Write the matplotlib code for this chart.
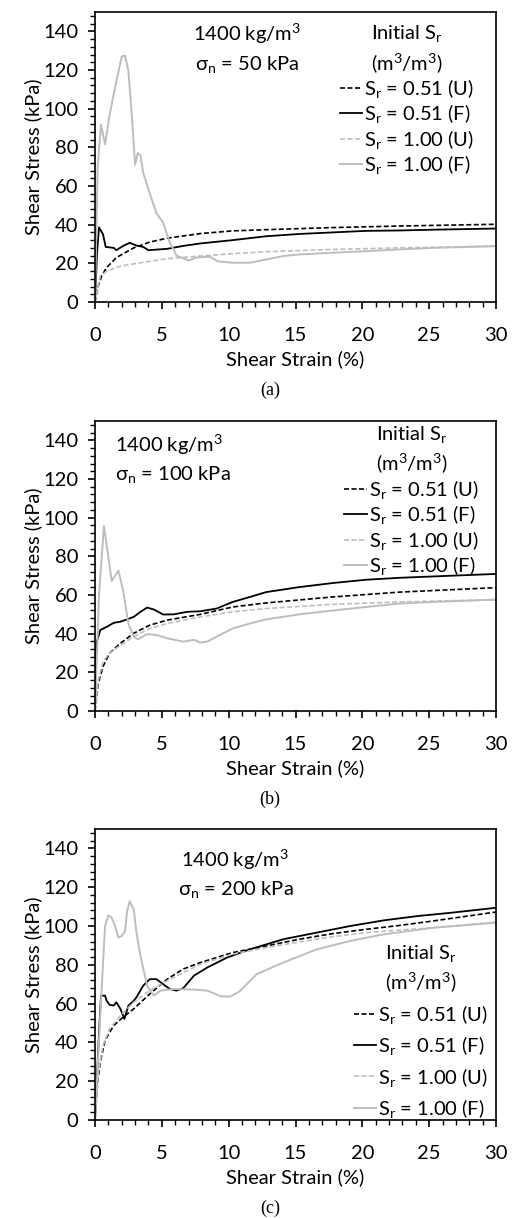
import matplotlib
matplotlib.use('Agg')
import matplotlib.pyplot as plt
from matplotlib.ticker import MultipleLocator

plt.rcParams['font.family'] = ['Lato', 'DejaVu Sans']
plt.rcParams['mathtext.fontset'] = 'custom'
plt.rcParams['mathtext.rm'] = 'Lato'
plt.rcParams['mathtext.it'] = 'Lato:italic'
FS = 14.5
plt.rcParams['font.size'] = FS

# ---- panel (a): sigma_n = 50 kPa ----
a_u051_x = [0, 0.25, 0.5, 0.87, 1.6, 2.9, 4.1, 5.4, 7.9, 10.3, 12.8, 17.8, 22.8, 30]
a_u051_y = [0, 8.4, 13.5, 17.8, 23, 28, 31, 33, 35.4, 36.8, 37.4, 38.5, 39.3, 40.2]
a_f051_x = [0, 0.15, 0.3, 0.6, 0.8, 1.4, 1.6, 2.1, 2.6, 3.1, 3.6, 4.0, 5.4, 6.6, 7.9,
            10.3, 12.8, 15.3, 17.8, 20.3, 22.8, 25.3, 30]
a_f051_y = [0, 25, 38.6, 35, 28.5, 28, 26.8, 29, 30.6, 29.2, 28.5, 26.8, 27.5, 29, 30.3,
            32, 34, 35.2, 36, 36.8, 37, 37.4, 38]
a_u100_x = [0, 0.4, 0.9, 1.9, 3.4, 5.4, 7.9, 10.3, 12.8, 17.8, 22.8, 30]
a_u100_y = [0, 13.5, 16, 18.6, 20.3, 22.4, 23.8, 25, 26, 27.2, 28, 28.9]
a_f100_x = [0, 0.2, 0.45, 0.75, 1.1, 1.5, 2.0, 2.25, 2.5, 2.75, 3.0, 3.2, 3.4, 3.6, 4.1,
            4.6, 5.1, 5.6, 6.1, 7.0, 7.6, 8.6, 9.2, 10.3, 11.6, 12.8, 14.1, 15.3, 17.8,
            20.3, 22.8, 25.3, 30]
a_f100_y = [0, 70, 91.8, 81.5, 97, 111, 127, 127.5, 119.5, 97, 71, 77, 76, 67, 56,
            46, 41, 30.6, 24, 21.5, 23, 23.4, 21, 20.3, 20.3, 22, 23.8, 24.6, 25.5,
            26.3, 27.2, 28, 28.9]

# ---- panel (b): sigma_n = 100 kPa ----
b_u051_x = [0, 0.25, 0.6, 1.1, 1.9, 2.9, 4.1, 5.4, 7.9, 10.3, 12.8, 17.8, 22.8, 30]
b_u051_y = [0, 14.5, 23, 30, 35, 40.2, 44.4, 47, 50, 53.8, 55.9, 59, 61.5, 63.8]
b_f051_x = [0, 0.1, 0.4, 0.9, 1.4, 1.9, 2.4, 2.9, 3.4, 3.9, 4.4, 5.1, 5.9, 6.9, 7.9,
            9.1, 10.3, 11.6, 12.8, 15.3, 17.8, 20.3, 22.8, 25.3, 30]
b_f051_y = [0, 35, 41.9, 43.6, 45.6, 46.2, 47.4, 48.7, 51.3, 53.5, 52.5, 49.9, 50, 51.3, 51.6,
            53, 56.4, 59, 61.5, 64.1, 66.2, 67.9, 68.9, 69.6, 70.9]
b_u100_x = [0, 0.25, 0.6, 1.1, 1.9, 2.9, 4.1, 5.4, 7.9, 10.3, 12.8, 17.8, 22.8, 30]
b_u100_y = [0, 16, 25.6, 30, 34, 38.5, 42.7, 45.3, 48.7, 51.3, 53, 55.2, 56.4, 57.6]
b_f100_x = [0, 0.3, 0.67, 1.25, 1.75, 2.1, 2.5, 2.9, 3.2, 3.9, 4.6, 5.4, 6.6, 7.4, 7.9,
            8.4, 9.1, 10.3, 11.6, 12.8, 15.3, 17.8, 20.3, 22.8, 25.3, 30]
b_f100_y = [0, 60, 95.7, 67.2, 72.6, 62.4, 45, 38.5, 37, 39.8, 39.3, 37.6, 35.9, 36.8, 35.4,
            35.9, 38.5, 42.7, 45.3, 47.4, 50, 52, 53.8, 55.6, 56.4, 57.6]

# ---- panel (c): sigma_n = 200 kPa ----
c_u051_x = [0, 0.2, 0.4, 0.75, 1.4, 2.1, 2.9, 4.1, 5.4, 6.6, 7.9, 10.3, 12.8, 15.3, 17.8,
            20.3, 22.8, 25.3, 30]
c_u051_y = [0, 19.7, 30, 41, 48.7, 53, 57.3, 65, 72.6, 77.8, 81.2, 86.3, 89.7, 93.2, 96.1,
            98.3, 100.3, 102.6, 107.2]
c_f051_x = [0, 0.3, 0.45, 0.75, 0.87, 1.1, 1.4, 1.6, 1.9, 2.2, 2.5, 2.9, 3.1, 3.6, 4.1,
            4.6, 5.1, 5.6, 6.1, 6.6, 7.4, 8.4, 9.9, 11.6, 14.1, 16.6, 19.1, 21.6, 24.1,
            26.6, 30]
c_f051_y = [0, 45, 64.1, 64.1, 61.5, 59.3, 59, 60.7, 57.3, 52.1, 59, 61.5, 63.2, 69.2, 72.6,
            72.6, 70, 67.5, 66.7, 67.9, 74.4, 78.6, 83.8, 88, 93.2, 96.6, 100, 102.9, 105.1,
            106.8, 109.4]
c_u100_x = [0, 0.25, 0.6, 1.1, 1.9, 2.9, 4.1, 5.4, 7.9, 10.3, 12.8, 15.3, 17.8, 20.3, 22.8,
            25.3, 30]
c_u100_y = [0, 24.8, 38.5, 47, 53.8, 60.7, 66.7, 71.8, 80.3, 85.5, 88.9, 91.8, 94.5, 96.6, 97.9,
            99.1, 102]
c_f100_x = [0, 0.4, 0.75, 1.0, 1.25, 1.5, 1.75, 2.0, 2.25, 2.4, 2.6, 2.9, 3.1, 3.4, 3.9,
            4.4, 4.9, 5.9, 7.4, 8.4, 9.4, 10.1, 10.8, 12.1, 14.1, 16.6, 19.1, 21.6, 25.3, 30]
c_f100_y = [0, 55, 100, 105.5, 104.3, 100, 94, 94.9, 97.4, 107.7, 112.8, 108.5, 96.6, 84.6, 69.2,
            64.1, 66.7, 67.5, 67.2, 66.7, 63.8, 63.6, 66.2, 75.2, 81.2, 88, 92.3, 95.7, 99.1, 101.7]

panel_tags = ['(a)', '(b)', '(c)']
labels = ['$\\mathrm{S_r}$ = 0.51 (U)', '$\\mathrm{S_r}$ = 0.51 (F)',
          '$\\mathrm{S_r}$ = 1.00 (U)', '$\\mathrm{S_r}$ = 1.00 (F)']
panels = [
    [(a_u051_x, a_u051_y), (a_f051_x, a_f051_y), (a_u100_x, a_u100_y), (a_f100_x, a_f100_y)],
    [(b_u051_x, b_u051_y), (b_f051_x, b_f051_y), (b_u100_x, b_u100_y), (b_f100_x, b_f100_y)],
    [(c_u051_x, c_u051_y), (c_f051_x, c_f051_y), (c_u100_x, c_u100_y), (c_f100_x, c_f100_y)],
]
styles = [dict(color='black', ls=(0, (3, 1.5)), lw=1.2),
          dict(color='black', ls='-', lw=1.3),
          dict(color='#bdbdbd', ls=(0, (3, 1.5)), lw=1.2),
          dict(color='#bdbdbd', ls='-', lw=1.4)]

# legend placement per panel: (loc, anchor, labelspacing)
leg_opts = [('upper right', (0.945, 0.962), 0.12),
            ('upper right', (0.957, 0.99), 0.12),
            ('lower right', (0.98, 0.0), 0.42)]

W, H = 512, 1218
fig = plt.figure(figsize=(W / 100, H / 100), dpi=100)

# axes boxes in pixels: (top, bottom)
boxes = [(12, 302), (421, 711), (829, 1120)]
left, right = 95, 496

for i, (top, bot) in enumerate(boxes):
    ax = fig.add_axes([left / W, 1 - bot / H, (right - left) / W, (bot - top) / H])
    for (xs, ys), st, lab in zip(panels[i], styles, labels):
        ax.plot(xs, ys, label=lab, **st)
    ax.set_xlim(0, 30)
    ax.set_ylim(0, 150)
    ax.xaxis.set_major_locator(MultipleLocator(5))
    ax.xaxis.set_minor_locator(MultipleLocator(1))
    ax.yaxis.set_major_locator(MultipleLocator(20))
    ax.yaxis.set_minor_locator(MultipleLocator(4))
    ax.tick_params(which='major', direction='out', length=5, width=1.2, labelsize=FS)
    ax.tick_params(which='minor', direction='out', length=3.5, width=1.0)
    ax.tick_params(axis='x', which='major', pad=13)
    ax.tick_params(axis='y', which='major', pad=7)
    for sp in ax.spines.values():
        sp.set_linewidth(1.2)
    ax.set_xlabel('Shear Strain (%)', fontsize=FS, labelpad=4.5)
    ax.set_ylabel('Shear Stress (kPa)', fontsize=FS, labelpad=1)

    if i == 0:
        ax.text(0.38, 0.965, '1400 kg/m$^3$\nσ$_\\mathrm{n}$ = 50 kPa', transform=ax.transAxes,
                ha='center', va='top', linespacing=1.45)
    elif i == 1:
        ax.text(0.05, 0.96, '1400 kg/m$^3$\nσ$_\\mathrm{n}$ = 100 kPa', transform=ax.transAxes,
                ha='left', va='top', linespacing=1.45)
    else:
        ax.text(0.35, 0.935, '1400 kg/m$^3$\nσ$_\\mathrm{n}$ = 200 kPa', transform=ax.transAxes,
                ha='center', va='top', linespacing=1.45)

    loc, anchor, lsp = leg_opts[i]
    leg = ax.legend(loc=loc, bbox_to_anchor=anchor, frameon=False, handlelength=1.1,
                    handletextpad=0.1, labelspacing=lsp, borderaxespad=0, borderpad=0,
                    title='Initial $\\mathrm{S_r}$\n(m$^3$/m$^3$)', title_fontsize=FS)
    leg.get_title().set_multialignment('center')
    leg.get_title().set_linespacing(1.35)

    fig.text(270 / W, 1 - (bot + 88) / H, panel_tags[i], ha='center', va='center',
             family='Liberation Serif', fontsize=13)

fig.savefig('out.png', dpi=100)
